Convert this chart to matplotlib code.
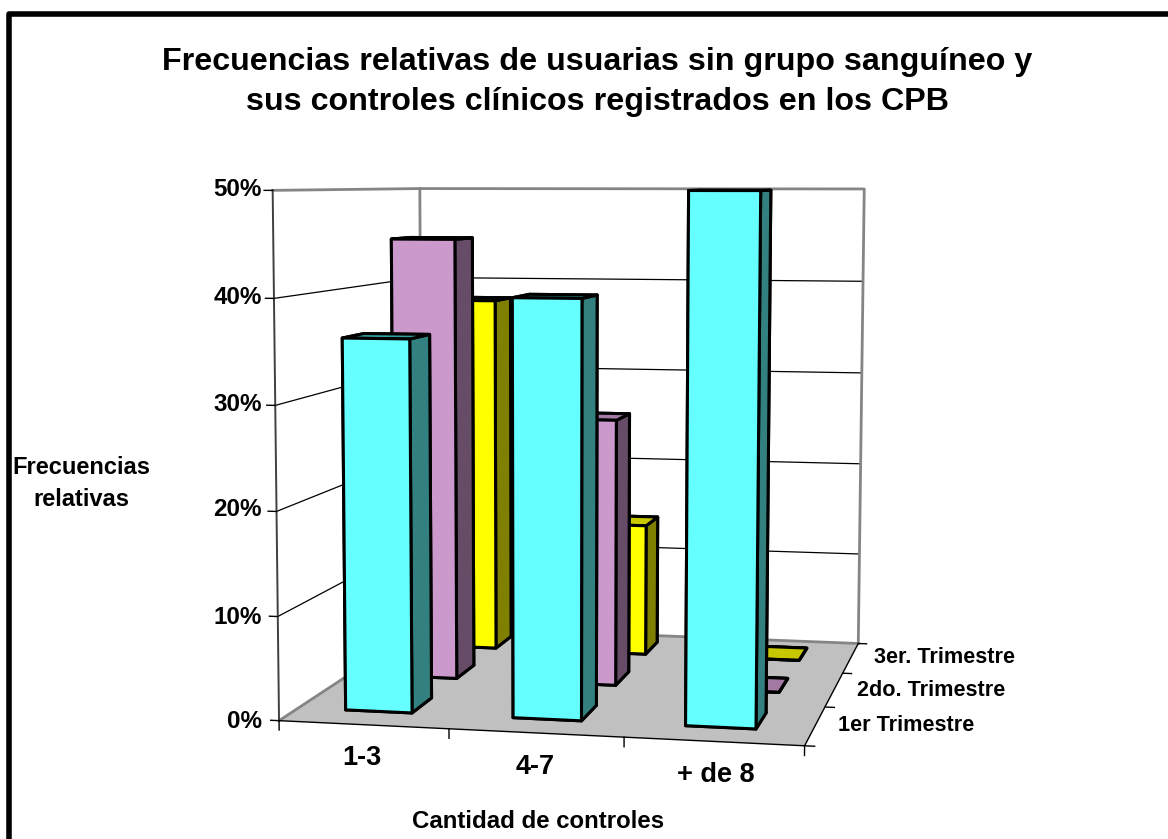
import numpy as np
import matplotlib
matplotlib.use("Agg")
import matplotlib.pyplot as plt
from matplotlib.lines import Line2D
from mpl_toolkits.mplot3d.art3d import Poly3DCollection

W, H = 1168, 839

# Data
categories = ["1-3", "4-7", "+ de 8"]
series_names = ["1er Trimestre", "2do. Trimestre", "3er. Trimestre"]
values_1er = [36, 40, 50]
values_2do = [45, 27, 0]
values_3er = [38, 14, 0]
z_ticks = [0, 10, 20, 30, 40, 50]

# front, side and top colours per series
series_colors = [
    ("#66FFFF", "#338080", "#33A0A0"),
    ("#CC99CC", "#664C66", "#A37AA3"),
    ("#FFFF00", "#808000", "#C8C800"),
]

# box corner (x, y, z) -> pixel seen in the reference, used to fit the camera
calib_world = [(0, 0, 0), (3, 0, 0), (3, 3, 0), (0, 3, 0),
               (0, 0, 50), (3, 3, 50), (0, 3, 50), (0, 0, 40), (0, 0, 10)]
calib_pixel = [(279.5, 721), (804, 745.7), (859, 643.5), (421, 626),
               (272, 190), (864, 189), (420.7, 189), (273.5, 298), (279, 617)]


def fit_camera(world, pixel):
    # plain DLT, 3x4 matrix from world coords to pixels
    rows = []
    for (x, y, z), (u, v) in zip(world, pixel):
        z, u, v = z / 10, u / 1000, v / 1000
        rows.append([x, y, z, 1, 0, 0, 0, 0, -u * x, -u * y, -u * z, -u])
        rows.append([0, 0, 0, 0, x, y, z, 1, -v * x, -v * y, -v * z, -v])
    P = np.linalg.svd(np.array(rows))[2][-1].reshape(3, 4)
    P = np.diag([1000, 1000, 1.0]) @ P @ np.diag([1, 1, 0.1, 1])
    if P[2] @ np.array([0, 0, 0, 1]) < 0:
        P = -P
    return P


def main():
    plt.rcParams["font.family"] = ["Liberation Sans", "DejaVu Sans"]
    plt.rcParams["font.weight"] = "bold"

    fig = plt.figure(figsize=(W / 100, H / 100), dpi=100, facecolor="white")
    ax = fig.add_axes([0, 0, 1, 1], projection="3d", computed_zorder=False)
    ax.set_axis_off()
    ax.patch.set_visible(False)
    ax.apply_aspect = lambda position=None: None

    # the camera of the original chart instead of an elev/azim view
    P = fit_camera(calib_world, calib_pixel)

    def get_proj():
        x0, x1 = ax.viewLim.intervalx
        y0, y1 = ax.viewLim.intervaly
        to_view = np.array([[(x1 - x0) / W, 0, x0],
                            [0, (y0 - y1) / H, y1],
                            [0, 0, 1]])
        Q = to_view @ P
        return np.array([Q[0], Q[1], [0, 0, 0, -1], Q[2]])

    ax.get_proj = get_proj

    n_cat, n_ser = len(categories), len(series_names)

    # walls and floor
    wall = dict(facecolor="white", edgecolor="none", zorder=1)
    ax.add_collection3d(Poly3DCollection(
        [[(0, 0, 0), (0, n_ser, 0), (0, n_ser, 50), (0, 0, 50)],
         [(0, n_ser, 0), (n_cat, n_ser, 0), (n_cat, n_ser, 50), (0, n_ser, 50)]], **wall))
    ax.add_collection3d(Poly3DCollection(
        [[(0, 0, 0), (n_cat, 0, 0), (n_cat, n_ser, 0), (0, n_ser, 0)]],
        facecolor="#C0C0C0", edgecolor="none", zorder=2))

    for z in z_ticks[1:-1]:
        ax.plot([0, 0, n_cat], [0, n_ser, n_ser], [z, z, z], color="black", lw=0.9, zorder=3)
    grey = dict(color="#858585", lw=2.0, zorder=3)
    ax.plot([0, 0, n_cat, n_cat], [0, n_ser, n_ser, n_ser], [50, 50, 50, 0], **grey)
    ax.plot([0, 0], [n_ser, n_ser], [0, 50], **grey)
    ax.plot([0, n_cat], [n_ser, n_ser], [0, 0], **grey)
    ax.plot([0, 0], [0, n_ser], [0, 0], **grey)
    ax.plot([0, 0], [0, 0], [0, 50], color="#404040", lw=1.4, zorder=3)

    # axis lines and ticks
    ink = dict(color="black", lw=1.0, zorder=4)
    ax.plot([0, n_cat, n_cat], [0, 0, n_ser], [0, 0, 0], **ink)
    for z in z_ticks:
        ax.plot([-0.05, 0], [0, 0], [z, z], **ink)
    for i in range(n_cat + 1):
        ax.plot([i, i], [0, 0], [-0.9, 0], **ink)
    for j in range(n_ser + 1):
        ax.plot([n_cat, n_cat + 0.055], [j, j], [0, 0], **ink)

    # bars, back row first so nearer rows cover farther ones
    bar_w, bar_d, x_pad, y_pad = 0.40, 0.42, 0.285, 0.35
    rows = [values_1er, values_2do, values_3er]
    for j in reversed(range(n_ser)):
        front, side, top = series_colors[j]
        for i, value in enumerate(rows[j]):
            faces = [top, top, front, front, side, side]
            ax.bar3d(i + x_pad, j + y_pad, 0, bar_w, bar_d, value, color=faces,
                     shade=False, edgecolor="black", linewidth=2.2,
                     zorder=10 + (n_ser - j) * 10 + i)

    # chart frame, only top and left fall inside the picture
    fig.add_artist(Line2D([9.2 / W, 9.2 / W, 1], [0, 1 - 13.5 / H, 1 - 13.5 / H],
                          color="black", lw=4.0, solid_joinstyle="round", zorder=20))

    def label(x, y, text, size, ha="center", va="center"):
        fig.text(x / W, 1 - y / H, text, fontsize=size, ha=ha, va=va, fontweight="bold")

    label(597, 70, "Frecuencias relativas de usuarias sin grupo sanguíneo y", 23.2, va="baseline")
    label(597, 110, "sus controles clínicos registrados en los CPB", 23.2, va="baseline")
    for z, y in zip(z_ticks, [721, 617, 510, 404, 298, 190]):
        label(262, y, f"{z}%", 17.4, ha="right")
    for name, x, y in zip(categories, [362, 535, 716], [758, 767.5, 775.5]):
        label(x, y, name, 19.5)
    for name, x, y in zip(series_names, [838, 857, 874], [725.5, 690, 657.5]):
        label(x, y, name, 15.6, ha="left")
    label(538, 822, "Cantidad de controles", 17.3)
    label(81, 468, "Frecuencias", 17)
    label(81, 500, "relativas", 17)

    fig.savefig("out.png", dpi=100)


if __name__ == "__main__":
    main()
